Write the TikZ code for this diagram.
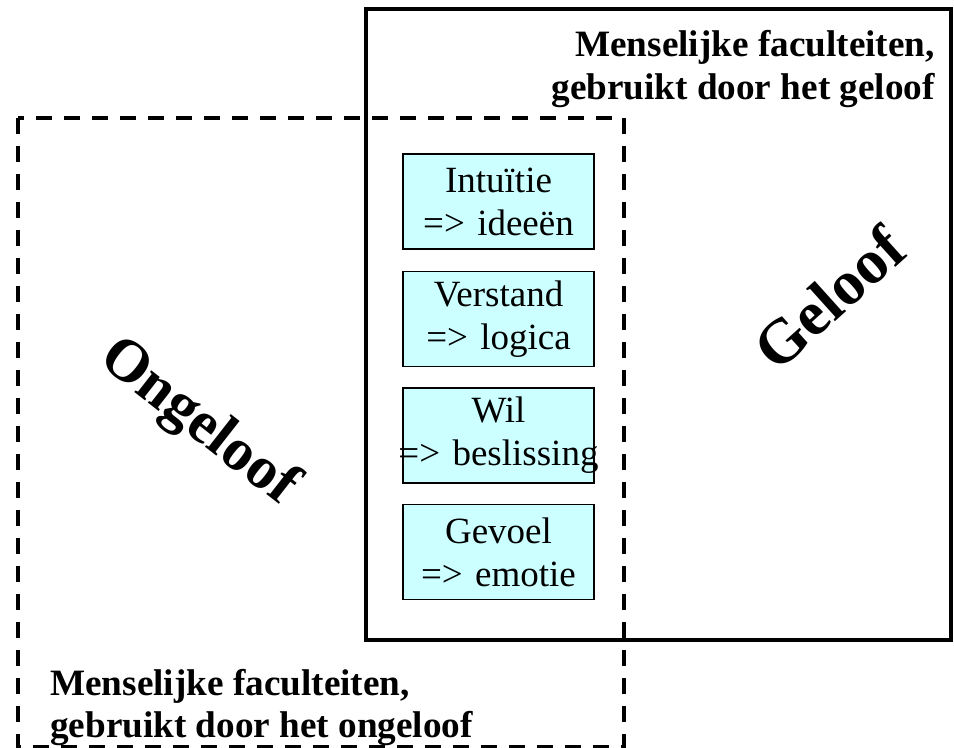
\documentclass[tikz,border=0pt]{standalone}
\usepackage{fontspec}
\setmainfont{Liberation Serif}
\begin{document}
\begin{tikzpicture}[x=0.75pt,y=-0.75pt,
  faculty/.style={draw=black,line width=1.1pt,fill=cyanbox,text width=143pt,minimum height=71.5pt,inner sep=0pt,align=center,font=\fontsize{27.75}{32.25}\selectfont},
  heading/.style={inner sep=0pt,font=\fontsize{27.9}{32.25}\selectfont\bfseries},
  bigword/.style={inner sep=0pt,font=\fontsize{45}{50}\selectfont\bfseries}]
\definecolor{cyanbox}{HTML}{CCFFFF}
\useasboundingbox (0,0) rectangle (954,748);
\fill[white] (0,0) rectangle (954,748);
% solid rectangle (Geloof)
\draw[line width=3pt] (366,9) rectangle (951,640);
% dashed rectangle (Ongeloof)
\draw[line width=2.3pt,dash pattern=on 12pt off 9pt] (18,118) rectangle (624,747);
% faculty boxes
\node[faculty] (b1) at (498.5,201.5) {Intuïtie\\=> ideeën};
\node[faculty] (b2) at (498.5,319) {Verstand\\=> logica};
\node[faculty] (b3) at (498.5,435.5) {Wil\\\makebox[\linewidth]{=> beslissing}};
\node[faculty] (b4) at (498.5,552) {Gevoel\\=> emotie};
% headings
\node[heading,anchor=base east] (h1) at (935,57) {Menselijke faculteiten,};
\node[heading,anchor=base east] (h2) at (935,100) {gebruikt door het geloof};
\node[heading,anchor=base west] (h3) at (50,695) {Menselijke faculteiten,};
\node[heading,anchor=base west] (h4) at (50,737) {gebruikt door het ongeloof};
% big rotated words
\node[bigword,rotate=42,font=\fontsize{47}{52}\selectfont\bfseries] (geloof) at (829,298) {Geloof};
\node[bigword,rotate=-38] (ongeloof) at (198,423) {Ongeloof};
\end{tikzpicture}
\end{document}
